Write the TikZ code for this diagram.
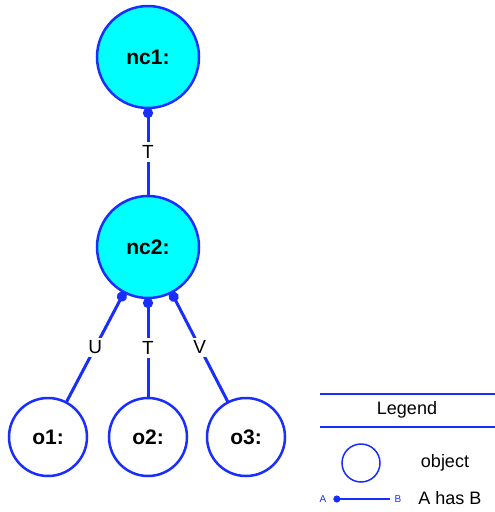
\documentclass[tikz,border=0pt]{standalone}
\usepackage{fontspec}
\setmainfont{Liberation Sans}
\usepackage{xcolor}
\usetikzlibrary{arrows.meta}
\definecolor{objblue}{RGB}{25,45,255}
\definecolor{objcyan}{RGB}{0,255,255}

\begin{document}
\begin{tikzpicture}[x=1pt, y=1pt, yscale=-1, inner sep=0pt, outer sep=0pt,
    bigobj/.style={circle, draw=objblue, line width=2.5pt, fill=objcyan,
      minimum size=102pt, font=\fontsize{21}{21}\bfseries\selectfont},
    smallobj/.style={circle, draw=objblue, line width=2.5pt, fill=white,
      minimum size=78pt, font=\fontsize{21}{21}\bfseries\selectfont},
    has/.style={draw=objblue, line width=3pt, {Circle[length=10pt]}-},
    role/.style={fill=white, inner sep=3pt, font=\fontsize{19}{19}\selectfont},
    legtext/.style={font=\fontsize{18}{18}\selectfont}]
  \useasboundingbox (0,0) rectangle (495,512);
  % objects
  \node[bigobj] (nc1) at (148,57) {nc1:};
  \node[bigobj] (nc2) at (148,247) {nc2:};
  \node[smallobj] (o1) at (48,437) {o1:};
  \node[smallobj] (o2) at (148,437) {o2:};
  \node[smallobj] (o3) at (246,437) {o3:};
  % has links
  \draw[has] (nc1) -- node[role] {T} (nc2);
  \draw[has] (nc2) -- node[role] {U} (o1);
  \draw[has] (nc2) -- node[role] {T} (o2);
  \draw[has] (nc2) -- node[role] {V} (o3);
  % legend
  \coordinate (legtl) at (320,394);
  \coordinate (legtr) at (495,394);
  \coordinate (legbl) at (320,427);
  \coordinate (legbr) at (495,427);
  \draw[objblue, line width=1.5pt] (legtl) -- (legtr);
  \draw[objblue, line width=1.5pt] (legbl) -- (legbr);
  \node[legtext] (legtitle) at (407,410) {Legend};
  \node[circle, draw=objblue, line width=1.5pt, minimum size=38pt] (legobj) at (361,463) {};
  \node[legtext] (legobjtext) at (445,463) {object};
  \node[text=objblue, inner sep=2pt, font=\fontsize{10}{10}\selectfont] (legA) at (323,499) {A};
  \node[text=objblue, inner sep=2pt, font=\fontsize{10}{10}\selectfont] (legB) at (398,499) {B};
  \draw[objblue, line width=1.5pt, {Circle[length=7pt]}-, shorten <=5pt, shorten >=3pt] (legA) -- (legB);
  \node[legtext] (leghas) at (450,498) {A has B};
\end{tikzpicture}
\end{document}
